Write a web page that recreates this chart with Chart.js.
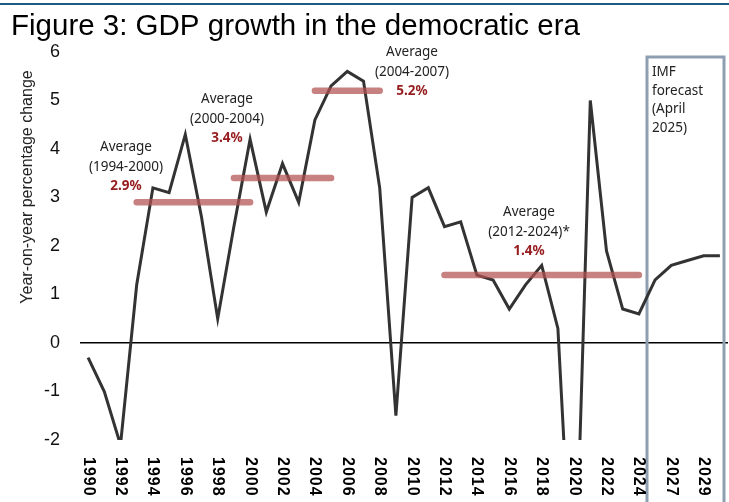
<!DOCTYPE html>
<html>
<head>
<meta charset="utf-8">
<title>GDP growth in the democratic era</title>
<script src="https://cdn.jsdelivr.net/npm/chart.js@4.4.1/dist/chart.umd.min.js"></script>
<style>
  html, body { margin: 0; padding: 0; background: #fff; }
  #wrap { width: 729px; height: 502px; position: relative; }
</style>
</head>
<body>
<div id="wrap"><canvas id="gdpChart"></canvas></div>
<script>
// years on the category axis (actuals to 2024, IMF forecast after)
var years = ['1990', '1991', '1992', '1993', '1994', '1995', '1996', '1997', '1998', '1999',
             '2000', '2001', '2002', '2003', '2004', '2005', '2006', '2007', '2008', '2009',
             '2010', '2011', '2012', '2013', '2014', '2015', '2016', '2017', '2018', '2019',
             '2020', '2021', '2022', '2023', '2024', '2025', '2026', '2027', '2028', '2029'];

// real GDP growth, % y/y
var growth = [-0.3, -1.0, -2.1, 1.2, 3.2, 3.1, 4.3, 2.6, 0.5, 2.4,
              4.2, 2.7, 3.7, 2.9, 4.6, 5.3, 5.6, 5.4, 3.2, -1.5,
              3.0, 3.2, 2.4, 2.5, 1.4, 1.3, 0.7, 1.2, 1.6, 0.3,
              -6.0, 5.0, 1.9, 0.7, 0.6, 1.3, 1.6, 1.7, 1.8, 1.8];

// labels printed under the axis
var tickLabels = ['1990', '', '1992', '', '1994', '', '1996', '', '1998', '',
                  '2000', '', '2002', '', '2004', '', '2006', '', '2008', '',
                  '2010', '', '2012', '', '2014', '', '2016', '', '2018', '',
                  '2020', '', '2022', '', '2024', '', '2027', '', '2029', ''];

var yTicks = [-2, -1, 0, 1, 2, 3, 4, 5, 6];

// period averages
var avgPeriods = ['(1994-2000)', '(2000-2004)', '(2004-2007)', '(2012-2024)*'];
var avgValues = [2.9, 3.4, 5.2, 1.4];
var avgFrom = ['1993', '1999', '2004', '2012'];
var avgTo = ['2000', '2005', '2008', '2024'];

var forecastStart = '2025';
var forecastNote = ['IMF', 'forecast', '(April', '2025)'];

var ANNOT_FONT = '"Noto Sans", "Open Sans", sans-serif';
var AXIS_FONT = '"Liberation Sans", Arial, sans-serif';
var AVG_RED = '#961b1e';

// one flat segment per average period
var avgSets = avgValues.map(function(v, i) {
    var a = years.indexOf(avgFrom[i]);
    var b = years.indexOf(avgTo[i]);
    return {
        label: 'Average ' + avgPeriods[i],
        data: years.map(function(y, k) { return (k >= a && k <= b) ? v : null; }),
        borderColor: 'rgba(178, 80, 80, 0.72)',
        borderWidth: 6.5,
        borderCapStyle: 'round',
        pointRadius: 0,
        spanGaps: false,
        order: 0
    };
});

var extras = {
    id: 'extras',
    beforeDraw: function(chart) {
        var ctx = chart.ctx;
        ctx.save();
        // rule and heading
        ctx.fillStyle = '#1f5c85';
        ctx.fillRect(0, 3, chart.width, 2);
        ctx.fillStyle = '#000';
        ctx.font = '29.5px ' + AXIS_FONT;
        ctx.textAlign = 'left';
        ctx.textBaseline = 'alphabetic';
        ctx.fillText('Figure 3: GDP growth in the democratic era', 11, 35);
        // y axis title
        ctx.translate(28, 187);
        ctx.rotate(-Math.PI / 2);
        ctx.font = '16px ' + AXIS_FONT;
        ctx.textAlign = 'center';
        ctx.textBaseline = 'middle';
        ctx.fillStyle = '#222';
        ctx.fillText('Year-on-year percentage change', 0, 0);
        ctx.restore();
    },
    beforeDatasetsDraw: function(chart) {
        // forecast box
        var ctx = chart.ctx;
        var x = chart.scales.x;
        var i = years.indexOf(forecastStart);
        var left = (x.getPixelForValue(i - 1) + x.getPixelForValue(i)) / 2;
        var right = chart.chartArea.right - 4;
        ctx.save();
        ctx.strokeStyle = '#8d9fb0';
        ctx.lineWidth = 3;
        ctx.beginPath();
        ctx.moveTo(left, chart.height + 2);
        ctx.lineTo(left, 57);
        ctx.lineTo(right, 57);
        ctx.lineTo(right, chart.height + 2);
        ctx.stroke();
        ctx.restore();
    },
    afterDatasetsDraw: function(chart) {
        var ctx = chart.ctx;
        var x = chart.scales.x;
        ctx.save();

        // average captions
        var cx = [126, 227, 412, 529];
        var cy = [147, 99, 52, 212];
        ctx.textAlign = 'center';
        ctx.textBaseline = 'middle';
        avgValues.forEach(function(v, i) {
            ctx.fillStyle = '#222';
            ctx.font = '13.5px ' + ANNOT_FONT;
            ctx.fillText('Average', cx[i], cy[i]);
            ctx.fillText(avgPeriods[i], cx[i], cy[i] + 20);
            ctx.fillStyle = AVG_RED;
            ctx.font = 'bold 13.5px ' + ANNOT_FONT;
            ctx.fillText(v.toFixed(1) + '%', cx[i], cy[i] + 39);
        });

        // forecast note
        ctx.fillStyle = '#222';
        ctx.font = '13.5px ' + ANNOT_FONT;
        ctx.textAlign = 'left';
        forecastNote.forEach(function(t, k) {
            ctx.fillText(t, 652, 72 + k * 18.7);
        });

        // vertical year labels, reading downwards
        ctx.font = 'bold 16px ' + AXIS_FONT;
        ctx.fillStyle = '#000';
        ctx.letterSpacing = '1px';
        ctx.textAlign = 'left';
        ctx.textBaseline = 'middle';
        tickLabels.forEach(function(t, k) {
            if (!t) return;
            ctx.save();
            ctx.translate(x.getPixelForValue(k), 457);
            ctx.rotate(Math.PI / 2);
            ctx.fillText(t, 0, 0);
            ctx.restore();
        });
        ctx.restore();
    }
};

var ctx = document.getElementById('gdpChart').getContext('2d');
var gdpChart = new Chart(ctx, {
    type: 'line',
    data: {
        labels: years,
        datasets: avgSets.concat([{
            label: 'Real GDP growth',
            data: growth,
            borderColor: '#333333',
            borderWidth: 3,
            pointRadius: 0,
            tension: 0,
            order: 1
        }])
    },
    options: {
        responsive: true,
        maintainAspectRatio: false,
        animation: false,
        layout: { padding: { top: 52, bottom: 62, right: 1, left: 0 } },
        plugins: {
            legend: { display: false },
            tooltip: { enabled: false }
        },
        scales: {
            x: {
                offset: true,
                afterFit: function(scale) { scale.height = 0; },
                grid: { display: false },
                border: { display: false },
                ticks: { display: false }
            },
            y: {
                min: -2,
                max: 6,
                afterFit: function(scale) { scale.width = 80; },
                afterBuildTicks: function(scale) {
                    scale.ticks = yTicks.map(function(v) { return { value: v }; });
                },
                border: { display: false },
                grid: {
                    drawTicks: false,
                    color: function(c) { return c.tick && c.tick.value === 0 ? '#000' : 'rgba(0,0,0,0)'; },
                    lineWidth: 1.5
                },
                ticks: {
                    padding: 20,
                    color: '#111',
                    font: { family: AXIS_FONT, size: 18 }
                }
            }
        }
    },
    plugins: [extras]
});
</script>
</body>
</html>
